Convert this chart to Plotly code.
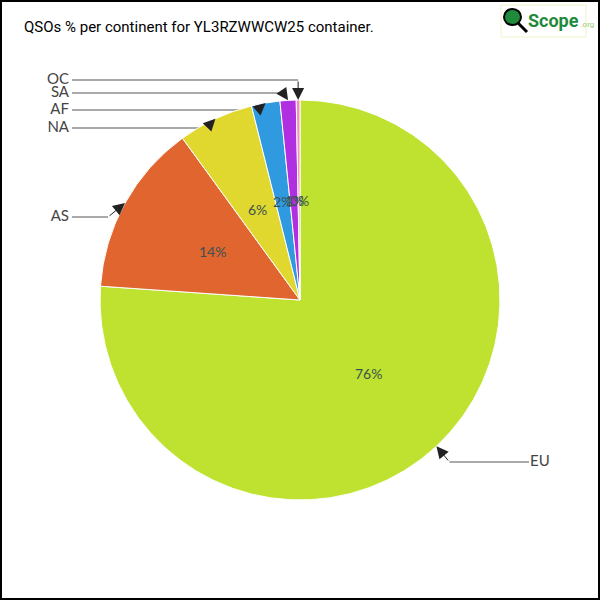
import math
import plotly.graph_objects as go

# ---- data ----
continents = ["EU", "AS", "NA", "AF", "SA", "OC"]
shares = [76.1, 13.9, 6.1, 2.3, 1.3, 0.3]
colors = ["#bee22f", "#e0652f", "#e0d72f", "#2f9ae0", "#b02fe0", "#f08fc0"]
title_text = "QSOs % per continent for YL3RZWWCW25 container."

# ---- layout (pixels) ----
W = H = 600
cx, cy, R = 300, 300, 200
label_y = [462, 217, 128, 110, 93, 80]
elbow_dx = [13, -17, -9, -8, -5, 0]
left_line_start = 72
right_line_end = 529

total = sum(shares)
cum = 0.0
mids = []
for v in shares:
    mids.append((cum + v / 2) / total * 2 * math.pi)
    cum += v

fig = go.Figure()

fig.add_trace(go.Pie(
    labels=continents, values=shares, sort=False, direction="clockwise",
    rotation=0, marker=dict(colors=colors, line=dict(color="white", width=1)),
    textinfo="none", hoverinfo="label+percent", showlegend=False,
    domain=dict(x=[(cx - R) / W, (cx + R) / W], y=[1 - (cy + R) / H, 1 - (cy - R) / H]),
))

# leader lines (horizontal parts) and labels
lx, lyy = [], []
tx, ty, tpos = [], [], []
annotations = []
for name, v, m, ly, dx in zip(continents, shares, mids, label_y, elbow_dx):
    tipx = cx + R * math.sin(m)
    tipy = cy - R * math.cos(m)
    bx = tipx + dx
    if tipx >= cx:
        lx += [bx, right_line_end, None]
        tx.append(right_line_end + 1); tpos.append("middle right")
    else:
        lx += [left_line_start, bx, None]
        tx.append(left_line_start - 3); tpos.append("middle left")
    lyy += [ly, ly, None]
    ty.append(ly)
    annotations.append(dict(
        x=tipx, y=tipy, ax=bx, ay=ly, xref="x", yref="y", axref="x", ayref="y",
        text="", showarrow=True, arrowhead=2, arrowsize=2.4, arrowwidth=1,
        arrowcolor="#222", standoff=0,
    ))
    pct = round(100 * v / total)
    annotations.append(dict(
        x=cx + 0.5 * R * math.sin(m), y=cy - 0.5 * R * math.cos(m),
        xref="x", yref="y", text=f"{pct}%", showarrow=False,
        font=dict(family="Lato", size=14, color="#3a5252"),
    ))

fig.add_trace(go.Scatter(x=lx, y=lyy, mode="lines", line=dict(color="#555", width=1),
                         hoverinfo="skip", showlegend=False))
fig.add_trace(go.Scatter(x=tx, y=ty, mode="text", text=continents, textposition=tpos,
                         textfont=dict(family="Lato", size=15, color="#444"),
                         hoverinfo="skip", showlegend=False))

# title
annotations.append(dict(x=22, y=27, xref="x", yref="y", xanchor="left", yanchor="middle",
                        text=title_text, showarrow=False,
                        font=dict(family="Roboto", size=15, color="black")))
# logo
annotations.append(dict(x=526, y=20, xref="x", yref="y", xanchor="left", yanchor="middle",
                        text="<b>Scope</b><span style='font-size:8px;color:#9acd70'> .org</span>",
                        showarrow=False, font=dict(family="Roboto", size=18, color="#1f8a3a")))

shapes = [
    dict(type="rect", xref="x", yref="y", x0=1, y0=1, x1=599, y1=599,
         line=dict(color="black", width=2), layer="above"),
    dict(type="rect", xref="x", yref="y", x0=501, y0=5, x1=586, y1=37,
         line=dict(color="#eef3c8", width=1), fillcolor="rgba(0,0,0,0)"),
    dict(type="line", xref="x", yref="y", x0=517, y0=22, x1=527, y1=32,
         line=dict(color="black", width=3)),
    dict(type="circle", xref="x", yref="y", x0=504, y0=9, x1=521, y1=25,
         line=dict(color="black", width=2), fillcolor="#1f8a3a"),
]

fig.update_layout(
    width=W, height=H, autosize=False,
    margin=dict(l=0, r=0, t=0, b=0),
    paper_bgcolor="white", plot_bgcolor="white",
    xaxis=dict(range=[0, W], visible=False, fixedrange=True),
    yaxis=dict(range=[H, 0], visible=False, fixedrange=True),
    annotations=annotations, shapes=shapes,
)

fig.write_html("out.html", config={"displayModeBar": False},
               post_script="document.body.style.margin='0';document.body.style.overflow='hidden';")
